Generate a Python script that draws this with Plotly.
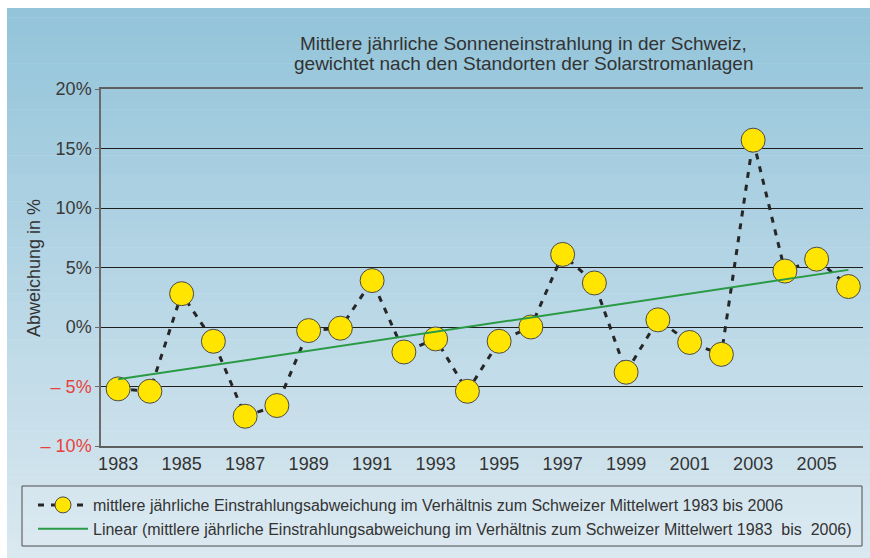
import plotly.graph_objects as go

years = list(range(1983, 2007))
deviation = [-5.2, -5.4, 2.8, -1.2, -7.5, -6.6, -0.3, -0.1, 3.9, -2.1, -1.0, -5.4,
             -1.2, 0.0, 6.1, 3.7, -3.8, 0.6, -1.3, -2.3, 15.7, 4.7, 5.7, 3.4]
trend_years = [1983, 2006]
trend_values = [-4.4, 4.8]

x_tick_vals = list(range(1983, 2006, 2))
x_tick_text = [str(v) for v in x_tick_vals]
y_tick_vals = [-10, -5, 0, 5, 10, 15, 20]
y_tick_text = ["– 10%", "– 5%", "0%", "5%", "10%", "15%", "20%"]
y_tick_colors = ["#e8423c", "#e8423c", "#3a3a3a", "#3a3a3a", "#3a3a3a", "#3a3a3a", "#3a3a3a"]

series_name = "mittlere jährliche Einstrahlungsabweichung im Verhältnis zum Schweizer Mittelwert 1983 bis 2006"
trend_name = "Linear (mittlere jährliche Einstrahlungsabweichung im Verhältnis zum Schweizer Mittelwert 1983  bis  2006)"
title_lines = ["Mittlere jährliche Sonneneinstrahlung in der Schweiz,",
               "gewichtet nach den Standorten der Solarstromanlagen"]

W, H = 870, 558
ML, MT = 101, 89
MR = W - 863
MB = H - 446
PW = W - ML - MR
PH = H - MT - MB

def sx(px):
    """screen x -> paper x"""
    return (px - ML) / PW

def sy(py):
    """screen y -> paper y"""
    return (H - MB - py) / PH

FONT = "Liberation Sans, Arial, sans-serif"

fig = go.Figure()

fig.add_trace(go.Scatter(
    x=years, y=deviation, mode="lines+markers", name=series_name,
    line=dict(color="#262626", width=3, dash="6px,7px"),
    marker=dict(size=24, color="#ffe500", line=dict(color="#4a4a4a", width=1)),
))
fig.add_trace(go.Scatter(
    x=trend_years, y=trend_values, mode="lines", name=trend_name,
    line=dict(color="#2a9a45", width=2),
))

# background gradient (white strip at top and left, as in the original)
shapes = []
top_c = (147, 196, 218)
bot_c = (218, 232, 240)
n = 60
top_px, bot_px = 8, H + 2
for i in range(n):
    t = i / (n - 1)
    c = tuple(int(round(top_c[k] + (bot_c[k] - top_c[k]) * t)) for k in range(3))
    ya = top_px + (bot_px - top_px) * i / n
    yb = top_px + (bot_px - top_px) * (i + 1) / n + (0.6 if i < n - 1 else 0)
    shapes.append(dict(type="rect", xref="paper", yref="paper",
                       x0=sx(7), x1=sx(W + 2),
                       y0=sy(yb), y1=sy(ya),
                       fillcolor="rgb(%d,%d,%d)" % c, line=dict(width=0), layer="below"))
# legend box
shapes.append(dict(type="rect", xref="paper", yref="paper",
                   x0=sx(22), x1=sx(862), y0=sy(546), y1=sy(486),
                   fillcolor="rgba(255,255,255,0.08)", line=dict(color="#4a4a4a", width=1), layer="below"))

annotations = [
    dict(text=title_lines[0], xref="paper", yref="paper", x=sx(523), y=sy(43),
         xanchor="center", yanchor="middle", showarrow=False, font=dict(size=19, color="#333333", family=FONT)),
    dict(text=title_lines[1], xref="paper", yref="paper", x=sx(523), y=sy(63),
         xanchor="center", yanchor="middle", showarrow=False, font=dict(size=19, color="#333333", family=FONT)),
    dict(text="Abweichung in %", xref="paper", yref="paper", x=sx(34), y=sy(268),
         xanchor="center", yanchor="middle", textangle=-90, showarrow=False,
         font=dict(size=18, color="#333333", family=FONT)),
]

fig.update_layout(
    width=W, height=H,
    margin=dict(l=ML, r=MR, t=MT, b=MB, autoexpand=False),
    paper_bgcolor="white", plot_bgcolor="rgba(0,0,0,0)",
    shapes=shapes, annotations=annotations,
    font=dict(family=FONT, color="#333333"),
    showlegend=True,
    legend=dict(x=sx(33), y=sy(488), xanchor="left", yanchor="top",
                bgcolor="rgba(0,0,0,0)", borderwidth=0, itemwidth=50,
                font=dict(size=16, color="#333333", family=FONT), tracegroupgap=0),
    xaxis=dict(range=[1982.46, 2006.46], tickmode="array", tickvals=x_tick_vals, ticktext=x_tick_text,
               showgrid=False, zeroline=False, showline=True, linecolor="#5f5f5f", linewidth=2,
               mirror=True, ticks="", tickfont=dict(size=18, color="#333333", family=FONT)),
    yaxis=dict(range=[-10, 20], tickmode="array", tickvals=y_tick_vals,
               ticktext=['<span style="color:%s">%s</span>' % (c, t) for c, t in zip(y_tick_colors, y_tick_text)],
               showgrid=True, gridcolor="#1e1e1e", gridwidth=1, zeroline=False,
               showline=True, linecolor="#6a6a6a", linewidth=1.5,
               ticks="outside", ticklen=4, tickcolor="#6a6a6a",
               tickfont=dict(size=18, color="#333333", family=FONT)),
)

fig.write_html(
    "out.html",
    config={"displayModeBar": False},
    post_script="document.body.style.margin='0';document.body.style.overflow='hidden';",
)
